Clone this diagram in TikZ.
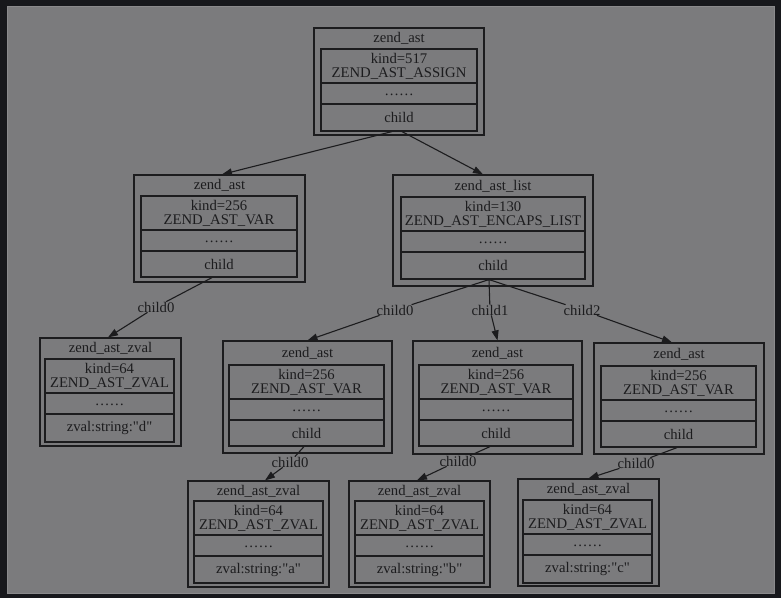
\documentclass[tikz,border=0pt]{standalone}
\usepackage{fontspec}
\setmainfont{Liberation Serif}[Ligatures=TeXOff]
\usetikzlibrary{arrows.meta,calc}
\definecolor{frame}{HTML}{17181C}
\definecolor{canvas}{HTML}{7B7B7D}
\definecolor{canvasedge}{HTML}{8A8A8C}
\definecolor{ink}{HTML}{1C1C1E}

\tikzset{
  recline/.style={draw=ink, line width=1.2pt, inner sep=0pt},
  txt/.style={text=ink, font=\fontsize{14.7}{14}\selectfont, inner sep=0pt, align=center},
  edge/.style={draw=ink, line width=1.1pt},
  tip/.style={-{Triangle[length=10pt,width=7pt]}},
}

% geometry of one record: name, outer x1 x2 y1 y2, inner x1 x2 y1 y2
\newcommand\recgeom[9]{\def\rn{#1}\def\oxa{#2}\def\oxb{#3}\def\oya{#4}\def\oyb{#5}%
  \def\ixa{#6}\def\ixb{#7}\def\iya{#8}\def\iyb{#9}}
% contents of the record: title, first cell, middle cell, last cell
\newcommand\recfill[4]{%
  \pgfmathsetmacro\ra{\iya+34}\pgfmathsetmacro\rb{\iya+55}%
  \pgfmathsetmacro\cx{(\ixa+\ixb)/2}%
  \node[recline, minimum width={(\oxb-\oxa)*1pt}, minimum height={(\oyb-\oya)*1pt}]
    (\rn) at ({(\oxa+\oxb)/2},{(\oya+\oyb)/2}) {};
  \node[txt] (\rn-t) at ({(\oxa+\oxb)/2},{(\oya+\iya)/2}) {#1};
  \node[recline, minimum width={(\ixb-\ixa)*1pt}, minimum height={(\ra-\iya)*1pt}]
    (\rn-a) at (\cx,{(\iya+\ra)/2}) {};
  \node[txt] at (\rn-a) {#2};
  \node[recline, minimum width={(\ixb-\ixa)*1pt}, minimum height={(\rb-\ra)*1pt}]
    (\rn-b) at (\cx,{(\ra+\rb)/2}) {};
  \node[txt] at ([yshift=-1.5pt]\rn-b.center) {#3};
  \node[recline, minimum width={(\ixb-\ixa)*1pt}, minimum height={(\iyb-\rb)*1pt}]
    (\rn-c) at (\cx,{(\rb+\iyb)/2}) {};
  \node[txt] at (\rn-c) {#4};
}

\begin{document}
\begin{tikzpicture}[x=1pt,y=-1pt]
  \useasboundingbox (0,0) rectangle (781,598);
  \fill[frame] (0,0) rectangle (781,598);
  \filldraw[fill=canvas, draw=canvasedge, line width=0.8pt] (7,6) rectangle (774,593);

  \recgeom{A}{314}{484}{28}{135}{321}{477}{49}{131}
  \recfill{zend\_ast}{kind=517\\ZEND\_AST\_ASSIGN}{……}{child}

  \recgeom{B}{134}{305}{175}{282}{141}{297}{196}{277}
  \recfill{zend\_ast}{kind=256\\ZEND\_AST\_VAR}{……}{child}

  \recgeom{C}{393}{593}{175}{286}{401}{585}{197}{279}
  \recfill{zend\_ast\_list}{kind=130\\ZEND\_AST\_ENCAPS\_LIST}{……}{child}

  \recgeom{D}{40}{181}{338}{446}{45}{174}{359}{442}
  \recfill{zend\_ast\_zval}{kind=64\\ZEND\_AST\_ZVAL}{……}{zval:string:"d"}

  \recgeom{E}{223}{392}{341}{453}{229}{384}{365}{446}
  \recfill{zend\_ast}{kind=256\\ZEND\_AST\_VAR}{……}{child}

  \recgeom{F}{413}{582}{341}{454}{419}{573}{365}{446}
  \recfill{zend\_ast}{kind=256\\ZEND\_AST\_VAR}{……}{child}

  \recgeom{G}{594}{764}{343}{454}{601}{756}{366}{447}
  \recfill{zend\_ast}{kind=256\\ZEND\_AST\_VAR}{……}{child}

  \recgeom{H}{188}{329}{481}{587}{194}{323}{501}{583}
  \recfill{zend\_ast\_zval}{kind=64\\ZEND\_AST\_ZVAL}{……}{zval:string:"a"}

  \recgeom{I}{349}{490}{481}{587}{355}{484}{501}{583}
  \recfill{zend\_ast\_zval}{kind=64\\ZEND\_AST\_ZVAL}{……}{zval:string:"b"}

  \recgeom{J}{518}{659}{479}{586}{523}{652}{500}{583}
  \recfill{zend\_ast\_zval}{kind=64\\ZEND\_AST\_ZVAL}{……}{zval:string:"c"}

  % edge labels
  \node[txt] (lD) at (156,307) {child0};
  \node[txt] (lE) at (395,310) {child0};
  \node[txt] (lF) at (490,310) {child1};
  \node[txt] (lG) at (582,310) {child2};
  \node[txt] (lH) at (290,462) {child0};
  \node[txt] (lI) at (458,461) {child0};
  \node[txt] (lJ) at (636,463) {child0};

  % connectors
  \draw[edge,tip] ([xshift=-7pt]A-c.south) -- ([xshift=2.5pt]B.north);
  \draw[edge,tip] ([xshift=3pt]A-c.south) -- ([xshift=-10pt]C.north);

  \draw[edge] ([xshift=-7pt]B-c.south) -- (lD);
  \draw[edge,tip] (lD) -- ([xshift=-2.5pt]D.north);

  \draw[edge] ([xshift=-4pt]C-c.south) -- (lE);
  \draw[edge,tip] (lE) -- (E.north);
  \draw[edge] ([xshift=-4pt]C-c.south) -- (lF);
  \draw[edge,tip] (lF) -- (F.north);
  \draw[edge] ([xshift=-4pt]C-c.south) -- (lG);
  \draw[edge,tip] (lG) -- ([xshift=-7pt]G.north);

  \draw[edge] ([xshift=-2.5pt]E-c.south) -- (lH);
  \draw[edge,tip] (lH) -- ([xshift=6.5pt]H.north);
  \draw[edge] ([xshift=-6pt]F-c.south) -- (lI);
  \draw[edge,tip] (lI) -- ([xshift=-2.5pt]I.north);
  \draw[edge] ([xshift=-1.5pt]G-c.south) -- (lJ);
  \draw[edge,tip] (lJ) -- (J.north);
\end{tikzpicture}
\end{document}
